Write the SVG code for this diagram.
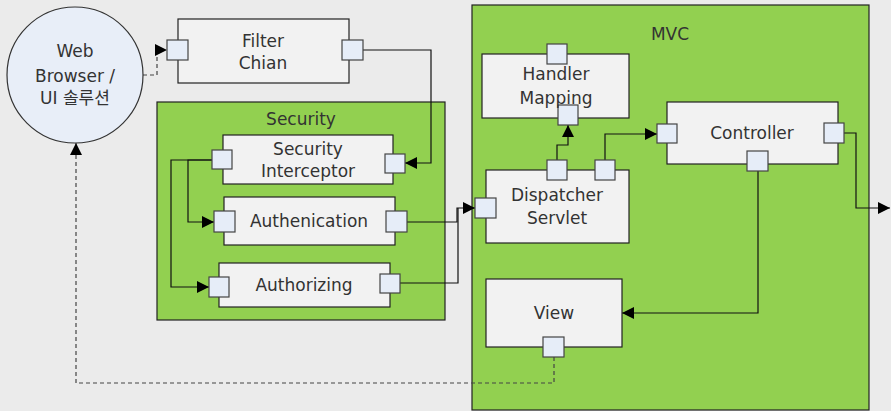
<svg xmlns="http://www.w3.org/2000/svg" width="891" height="411" viewBox="0 0 891 411">
<style>
.bg{fill:#ebebeb}
.grp{fill:#92d050;stroke:#222;stroke-width:1.2}
.box{fill:#f2f2f2;stroke:#222;stroke-width:1.2}
.port{fill:#e6edf8;stroke:#444;stroke-width:1.2}
.t{font-family:"DejaVu Sans","Noto Sans CJK KR",sans-serif;font-size:17px;fill:#333;text-anchor:middle}
.c{fill:none;stroke:#111;stroke-width:1.2}
.d{fill:none;stroke:#444;stroke-width:1.2;stroke-dasharray:4 3}
</style>
<defs>
<marker id="ah" viewBox="0 0 12 12" refX="12" refY="6" markerWidth="12" markerHeight="12" markerUnits="userSpaceOnUse" orient="auto">
<path d="M0,0 L12,6 L0,12 Z" fill="#000"/>
</marker>
</defs>
<rect class="bg" x="0" y="0" width="891" height="411"/>

<g id="security-group">
<rect class="grp" x="157" y="102" width="288" height="218"/>
<text class="t" x="301" y="125">Security</text>
</g>
<g id="mvc-group">
<rect class="grp" x="472" y="5" width="397" height="405"/>
<text class="t" x="670" y="40">MVC</text>
</g>

<g id="connectors">
<path class="d" d="M143,75 H157 V50 H167" marker-end="url(#ah)"/>
<path class="c" d="M363,50 H431 V163 H405" marker-end="url(#ah)"/>
<path class="c" d="M212,160 H188 V222 H214" marker-end="url(#ah)"/>
<path class="c" d="M212,160 H171 V287 H209" marker-end="url(#ah)"/>
<path class="c" d="M407,222 H457 V208 H475" marker-end="url(#ah)"/>
<path class="c" d="M400,283 H458 V208"/>
<path class="c" d="M557,160 V145 H568 V125" marker-end="url(#ah)"/>
<path class="c" d="M605,160 V134 H657" marker-end="url(#ah)"/>
<path class="c" d="M844,133 H856 V208 H890" marker-end="url(#ah)"/>
<path class="c" d="M758,171 V313 H622" marker-end="url(#ah)"/>
<path class="d" d="M554,357 V383 H76 V143" marker-end="url(#ah)"/>
</g>

<g id="web-browser">
<circle cx="75" cy="75" r="68" fill="#e8eef8" stroke="#333" stroke-width="1.2"/>
<text class="t" x="75" y="57">Web</text>
<text class="t" x="75" y="82">Browser /</text>
<text class="t" x="75" y="104">UI 솔루션</text>
</g>

<g id="filter-chain">
<rect class="box" x="178" y="19" width="171" height="64"/>
<rect class="port" x="167" y="40" width="21" height="20"/>
<rect class="port" x="342" y="40" width="21" height="20"/>
<text class="t" x="263" y="47">Filter</text>
<text class="t" x="263" y="69">Chian</text>
</g>

<g id="security-interceptor">
<rect class="box" x="223" y="135" width="170" height="49"/>
<rect class="port" x="212" y="150" width="20" height="19"/>
<rect class="port" x="385" y="154" width="20" height="19"/>
<text class="t" x="308" y="155">Security</text>
<text class="t" x="308" y="177">Interceptor</text>
</g>

<g id="authenication">
<rect class="box" x="224" y="197" width="171" height="48"/>
<rect class="port" x="214" y="211" width="21" height="21"/>
<rect class="port" x="386" y="211" width="21" height="21"/>
<text class="t" x="309" y="227">Authenication</text>
</g>

<g id="authorizing">
<rect class="box" x="219" y="263" width="171" height="44"/>
<rect class="port" x="209" y="277" width="20" height="20"/>
<rect class="port" x="380" y="274" width="20" height="19"/>
<text class="t" x="304" y="291">Authorizing</text>
</g>

<g id="handler-mapping">
<rect class="box" x="482" y="54" width="147" height="64"/>
<rect class="port" x="547" y="44" width="20" height="20"/>
<rect class="port" x="558" y="105" width="20" height="20"/>
<text class="t" x="556" y="80">Handler</text>
<text class="t" x="556" y="104">Mapping</text>
</g>

<g id="dispatcher-servlet">
<rect class="box" x="486" y="170" width="143" height="73"/>
<rect class="port" x="475" y="198" width="21" height="20"/>
<rect class="port" x="547" y="160" width="20" height="20"/>
<rect class="port" x="595" y="160" width="20" height="20"/>
<text class="t" x="557" y="201">Dispatcher</text>
<text class="t" x="557" y="224">Servlet</text>
</g>

<g id="controller">
<rect class="box" x="667" y="102" width="171" height="62"/>
<rect class="port" x="657" y="124" width="20" height="19"/>
<rect class="port" x="824" y="123" width="20" height="20"/>
<rect class="port" x="747" y="151" width="21" height="20"/>
<text class="t" x="752" y="139">Controller</text>
</g>

<g id="view">
<rect class="box" x="486" y="279" width="136" height="68"/>
<rect class="port" x="543" y="337" width="21" height="20"/>
<text class="t" x="554" y="319">View</text>
</g>
</svg>
